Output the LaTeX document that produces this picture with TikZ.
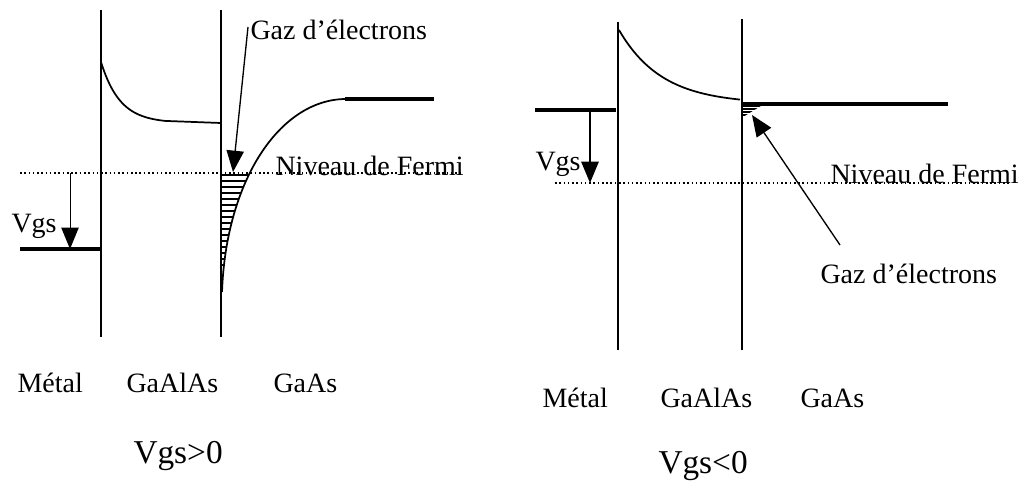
\documentclass[tikz,border=0pt]{standalone}
\usepackage{fontspec}
\setmainfont{Liberation Serif}
\usetikzlibrary{arrows.meta}

\tikzset{every picture/.style={line width=0.75pt}}
\tikzset{
  band/.style={line width=1.3pt},
  level/.style={line width=2.6pt},
  wall/.style={line width=1.6pt},
  fermi/.style={dotted, line width=1.2pt},
  label/.style={anchor=base west, inner sep=0pt, font=\fontsize{21}{24}\selectfont},
  title/.style={anchor=base west, inner sep=0pt, font=\fontsize{25}{28}\selectfont},
  tip/.style={-{Triangle[length=16pt,width=13pt]}},
}

\begin{document}
\begin{tikzpicture}[x=0.75pt,y=0.75pt,yscale=-1,xscale=1]
\useasboundingbox (0,0) rectangle (1019,482);

%%%%%%%%%%%%%%%% Vgs>0 (left)

%Walls
\draw [wall] (101,10) -- (101,337) ;
\draw [wall] (221,10) -- (221,337) ;

%GaAlAs band
\draw [band] plot [domain=101:165, samples=40] (\x, {123-61*exp(-(\x-101)/19)}) -- (221,123) ;

%GaAs band
\draw [band] (222,292) .. controls (226,180) and (280,100) .. (345,99) ;
\draw [level] (345,99) -- (434,99) ;

%Electron gas
\begin{scope}
\clip (221,292) .. controls (226,180) and (280,100) .. (345,99) -- (221,99) -- cycle ;
\foreach \y in {175,181,...,265} {
  \draw [line width=1.7pt] (221,\y) -- (260,\y) ;
}
\end{scope}

%Fermi level
\draw [fermi] (20,173) -- (462,173) ;

%Metal level
\draw [level] (20,249) -- (101,249) ;
\coordinate (fermiL) at (70,173) ;
\coordinate (metalL) at (70,249) ;
\draw [tip] (fermiL) -- (metalL) ;

% Text Node
\node [label] (vgsL) at (11,232) {Vgs};
\node [label] (niveauL) at (275,175) {Niveau de Fermi};
\node [label] (gazL) at (250,39) {Gaz d’électrons};
\coordinate (gasL) at (233,172) ;
\draw [tip, line width=1pt] (248,27) -- (gasL) ;

\node [label] (metalTxtL) at (17,392) {Métal};
\node [label] (gaalasL) at (126,392) {GaAlAs};
\node [label] (gaasL) at (273,392) {GaAs};
\node [title] (titleL) at (133,463) {Vgs>0};

%%%%%%%%%%%%%%%% Vgs<0 (right)

%Walls
\draw [wall, line width=2.2pt] (618,22) -- (618,350) ;
\draw [wall, line width=2.2pt] (742,19) -- (742,350) ;

%GaAlAs band
\draw [band] plot [domain=619:740, samples=50] (\x, {104-74*exp(-(\x-619)/43)}) ;

%GaAs band
\draw [level] (742,104) -- (948,104) ;

%Electron gas
\begin{scope}
\clip (743,104) -- (764,104) -- (743,117) -- cycle ;
\foreach \y in {106,109,...,118} {
  \draw [line width=1.3pt] (743,\y) -- (764,\y) ;
}
\end{scope}

%Fermi level
\draw [fermi] (555,183) -- (1010,183) ;

%Metal level
\draw [level] (535,110) -- (616,110) ;
\coordinate (metalR) at (590,110) ;
\coordinate (fermiR) at (590,183) ;
\draw [tip, line width=1.3pt] (metalR) -- (fermiR) ;

% Text Node
\node [label] (vgsR) at (535,170) {Vgs};
\node [label] (niveauR) at (830,183) {Niveau de Fermi};
\node [label] (gazR) at (820,283) {Gaz d’électrons};
\coordinate (gasR) at (752,115) ;
\draw [tip, line width=1pt] (840,245) -- (gasR) ;

\node [label] (metalTxtR) at (542,407) {Métal};
\node [label] (gaalasR) at (660,407) {GaAlAs};
\node [label] (gaasR) at (800,407) {GaAs};
\node [title] (titleR) at (658,473) {Vgs<0};

\end{tikzpicture}
\end{document}
